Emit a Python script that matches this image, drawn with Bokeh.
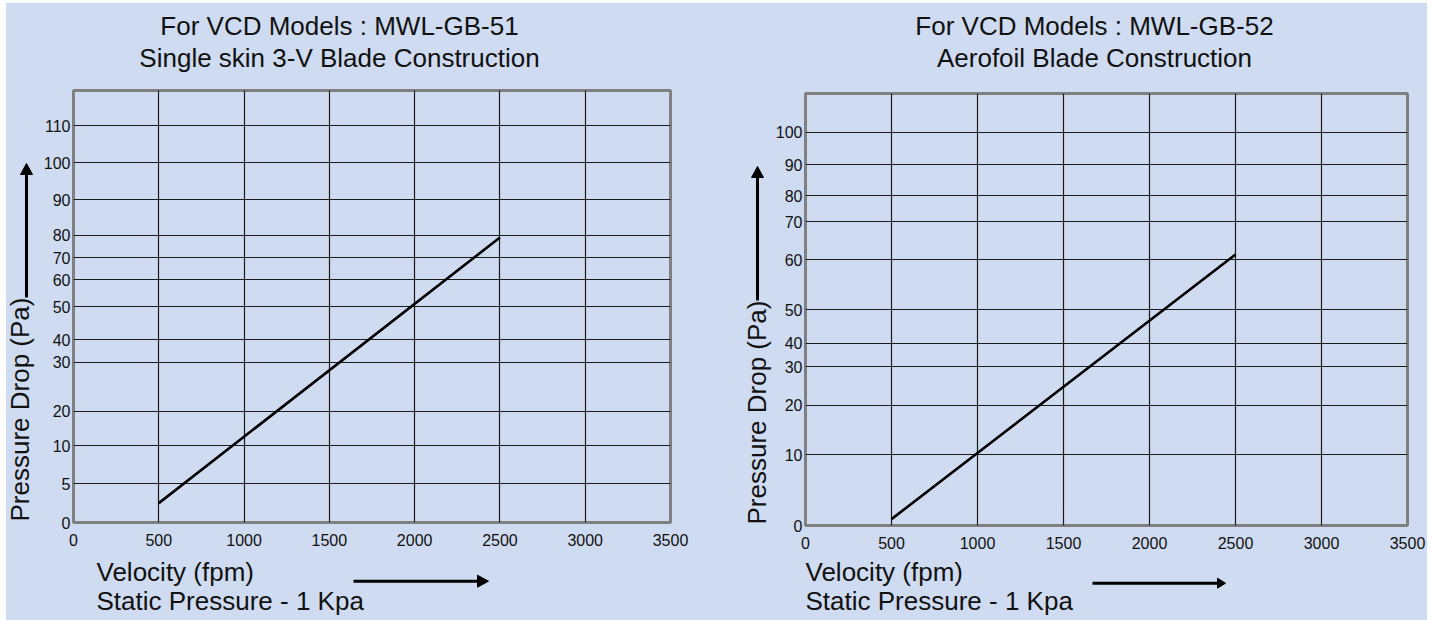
import numpy as np
from bokeh.plotting import figure
from bokeh.models import FixedTicker, Range1d
from bokeh.layouts import row, column
from bokeh.embed import file_html
from bokeh.resources import INLINE
from bokeh.core.properties import value

BG = "#cfdbf0"
FONT = "Liberation Sans"
INK = "#111111"

# ---------------- data ----------------
velocity_ticks = [0, 500, 1000, 1500, 2000, 2500, 3000, 3500]

# Panel 1 : MWL-GB-51
titles_1 = ["For VCD Models : MWL-GB-51", "Single skin 3-V Blade Construction"]
pressure_ticks_1 = [0, 5, 10, 20, 30, 40, 50, 60, 70, 80, 90, 100, 110]
# irregular printed scale: where each tick sits (% of axis height)
scale_pos_1 = [0, 8.96, 17.75, 25.7, 37.1, 42.3, 50.0, 56.2, 61.3, 66.5, 74.7, 83.3, 91.8]
velocity_1 = [500, 2500]
pressure_1 = [2.5, 79.0]

# Panel 2 : MWL-GB-52
titles_2 = ["For VCD Models : MWL-GB-52", "Aerofoil Blade Construction"]
pressure_ticks_2 = [0, 10, 20, 30, 40, 50, 60, 70, 80, 90, 100]
scale_pos_2 = [0, 16.4, 27.8, 36.8, 42.2, 50.0, 61.5, 70.3, 76.3, 83.5, 91.0]
velocity_2 = [500, 2500]
pressure_2 = [0.9, 61.4]

x_labels = ["Velocity (fpm)", "Static Pressure - 1 Kpa"]
y_label = "Pressure Drop (Pa)"


def strip(w, h, top=0, bottom=0):
    """Decoration strip: plain canvas in pixel units (y measured from the strip's top)."""
    s = figure(width=w, height=h, output_backend="svg", toolbar_location=None,
               x_range=Range1d(0, w), y_range=Range1d(h - bottom, top),
               x_axis_type=None, y_axis_type=None,
               min_border=0, min_border_left=0, min_border_right=0,
               min_border_top=top, min_border_bottom=bottom)
    s.background_fill_color = BG
    s.border_fill_color = BG
    s.outline_line_color = None
    s.grid.visible = False
    return s


def txt(s, x, y, t, align="left", angle=0.0):
    s.text(x=[x], y=[y], text=[t], angle=angle, text_align=align,
           text_baseline="middle", text_font=value(FONT),
           text_font_size="26px", text_color=INK)


def arrow_up(s, x, y0, y1, head_len=11, head_half=6):
    s.segment(x0=[x], y0=[y0], x1=[x], y1=[y1 + head_len - 1], line_width=3, line_color="black")
    s.patch([x - head_half, x, x + head_half], [y1 + head_len, y1, y1 + head_len],
            fill_color="black", line_color="black", line_width=1)


def arrow_right(s, y, x0, x1, head_len=11, head_half=6):
    s.segment(x0=[x0], y0=[y], x1=[x1 - head_len + 1], y1=[y], line_width=3, line_color="black")
    s.patch([x1 - head_len, x1, x1 - head_len], [y - head_half, y, y + head_half],
            fill_color="black", line_color="black", line_width=1)


def main_plot(width, borders, pticks, ppos, vel, pres):
    left, right, top, bottom = borders
    p = figure(width=width, height=top + 432 + bottom, output_backend="svg", toolbar_location=None,
               x_range=Range1d(0, 3500), y_range=Range1d(0, 100),
               min_border_left=left, min_border_right=right,
               min_border_top=top, min_border_bottom=bottom)
    p.background_fill_color = BG
    p.border_fill_color = BG
    p.outline_line_color = "#808080"
    p.outline_line_width = 3

    p.xaxis.ticker = FixedTicker(ticks=velocity_ticks)
    p.yaxis.ticker = FixedTicker(ticks=ppos)
    p.yaxis.major_label_overrides = {float(pp): str(t) for pp, t in zip(ppos, pticks)}
    for ax in (p.xaxis, p.yaxis):
        ax.axis_line_color = None
        ax.major_tick_line_color = None
        ax.minor_tick_line_color = None
        ax.major_tick_out = 0
        ax.major_tick_in = 0
        ax.major_label_text_font = FONT
        ax.major_label_text_font_size = "16px"
        ax.major_label_text_color = INK
    p.xaxis.major_label_standoff = 11
    p.yaxis.major_label_standoff = 3

    p.xgrid.ticker = FixedTicker(ticks=velocity_ticks)
    p.ygrid.ticker = FixedTicker(ticks=ppos)
    for g in (p.xgrid, p.ygrid):
        g.grid_line_color = "#1a1a1a"
        g.grid_line_width = 1.2

    # data line through the printed (irregular) pressure scale
    ymapped = np.interp(pres, pticks, ppos)
    p.line(vel, ymapped, line_color="black", line_width=2.6)
    return p


def panel(W, top_h, left_w, main_borders, bottom_h, titles, pticks, ppos, vel, pres, lay):
    top = strip(W, top_h)
    txt(top, lay["tx"], lay["ty"][0], titles[0], align="center")
    txt(top, lay["tx"], lay["ty"][1], titles[1], align="center")

    mb_left, mb_right, mb_top, mb_bottom = main_borders
    mid_h = mb_top + 432 + mb_bottom
    # the strip's frame is aligned with the main frame by the row layout
    left = strip(left_w, mid_h, top=mb_top, bottom=mb_bottom)
    txt(left, lay["yl_x"], lay["yl_y"], y_label, align="center", angle=np.pi / 2)
    arrow_up(left, lay["ua_x"], lay["ua_y0"], lay["ua_y1"])

    main = main_plot(W - left_w, main_borders, pticks, ppos, vel, pres)

    bot = strip(W, bottom_h)
    txt(bot, lay["xl_x"], lay["xy"][0], x_labels[0])
    txt(bot, lay["xl_x"], lay["xy"][1], x_labels[1])
    arrow_right(bot, lay["ra_y"], lay["ra_x0"], lay["ra_x1"],
                head_len=lay["ra_len"], head_half=lay["ra_half"])

    c = column(top, row(left, main, spacing=0), bot, spacing=0)
    c.styles = {"background-color": BG}
    return c


P1 = panel(710, 82, 34, (33, 46, 5, 30), 68, titles_1, pressure_ticks_1, scale_pos_1,
           velocity_1, pressure_1,
           dict(tx=333, ty=(22, 54), yl_x=13.7, yl_y=324, ua_x=20, ua_y0=212, ua_y1=78,
                xl_x=90, xy=(19.7, 48.7), ra_y=28.7, ra_x0=347, ra_x1=482, ra_len=11, ra_half=6))
P2 = panel(711, 85, 56, (31, 20, 5, 30), 65, titles_2, pressure_ticks_2, scale_pos_2,
           velocity_2, pressure_2,
           dict(tx=378, ty=(22, 54), yl_x=40.7, yl_y=324, ua_x=41, ua_y0=212, ua_y1=78,
                xl_x=89, xy=(16.7, 45.7), ra_y=27.7, ra_x0=376, ra_x1=509, ra_len=8, ra_half=5))

layout = row(P1, P2, spacing=0)
layout.margin = (3, 6, 0, 6)
layout.styles = {"background-color": BG}
open("out.html", "w").write(file_html(layout, INLINE))
